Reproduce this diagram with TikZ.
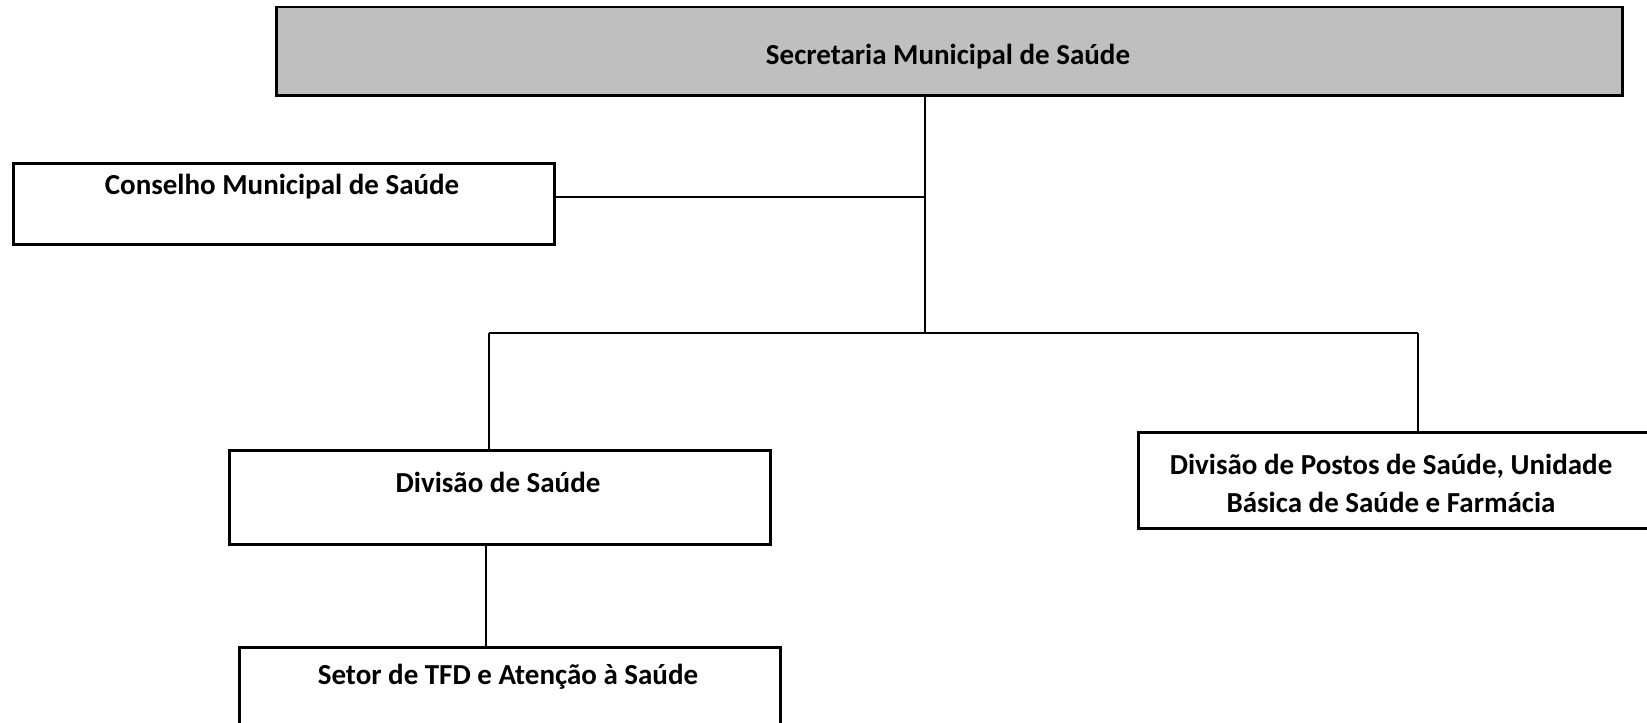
\documentclass[tikz,border=0pt]{standalone}
\usepackage{fontspec}
\setmainfont{Carlito}
\definecolor{headgray}{RGB}{191,191,191}
\tikzset{every picture/.style={line width=2pt}}

\begin{document}
\begin{tikzpicture}[x=1pt,y=-1pt]
\tikzstyle{every node}+=[inner sep=0pt]
\tikzstyle{unit}=[draw=black, line width=2.6pt, anchor=north west]
\tikzstyle{unittext}=[anchor=base, font=\fontsize{29}{38}\selectfont\bfseries]
\useasboundingbox (0,0) rectangle (1647,723);
% boxes
\node [unit, fill=headgray, minimum width=1346pt, minimum height=88.5pt] (sec) at (275,5.5) {};
\node [unit, minimum width=541pt, minimum height=81pt] (cms) at (12,162) {};
\node [unit, minimum width=541pt, minimum height=94pt] (dsa) at (228,449) {};
\node [unit, minimum width=520pt, minimum height=96pt] (dpf) at (1137,431) {};
\node [unit, minimum width=541pt, minimum height=90pt] (tfd) at (238,646) {};
% texts
\node [unittext] (sec-t) at (948,64) {Secretaria Municipal de Saúde};
\node [unittext] (cms-t) at (282,194) {Conselho Municipal de Saúde};
\node [unittext] (dsa-t) at (498,492) {Divisão de Saúde};
\node [unittext] (dpf-t1) at (1391,474) {Divisão de Postos de Saúde, Unidade};
\node [unittext] (dpf-t2) at (1391,512) {Básica de Saúde e Farmácia};
\node [unittext] (tfd-t) at (508,684) {Setor de TFD e Atenção à Saúde};
% connectors
\coordinate (hub) at (925,196.7);
\coordinate (split) at (925,333);
\coordinate (bl) at (489,333);
\coordinate (br) at (1418,333);
\coordinate (dl) at (486,0);
\draw (sec.south -| split) -- (split);
\draw (cms.east |- hub) -- (hub);
\draw (bl) -- (br);
\draw (bl) -- (bl |- dsa.north);
\draw (br) -- (br |- dpf.north);
\draw (dsa.south -| dl) -- (tfd.north -| dl);
\end{tikzpicture}
\end{document}
